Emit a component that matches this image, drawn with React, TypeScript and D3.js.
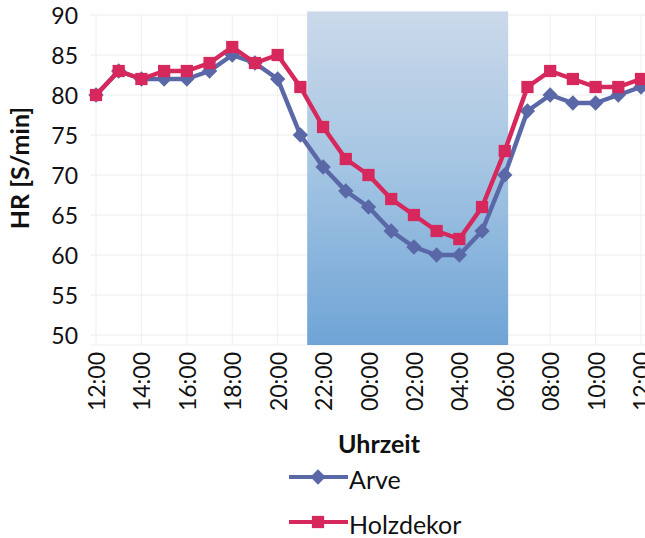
import React, { useEffect, useRef } from 'react';
import * as d3 from 'd3';

const W = 645;
const H = 538;

// hourly categories, 12:00 through 12:00 next day
const hours = [
  '12:00', '13:00', '14:00', '15:00', '16:00', '17:00', '18:00', '19:00', '20:00',
  '21:00', '22:00', '23:00', '00:00', '01:00', '02:00', '03:00', '04:00', '05:00',
  '06:00', '07:00', '08:00', '09:00', '10:00', '11:00', '12:00',
];
const tickLabels = ['12:00', '14:00', '16:00', '18:00', '20:00', '22:00', '00:00', '02:00', '04:00', '06:00', '08:00', '10:00', '12:00'];

const arve = [80, 83, 82, 82, 82, 83, 85, 84, 82, 75, 71, 68, 66, 63, 61, 60, 60, 63, 70, 78, 80, 79, 79, 80, 81];
const holzdekor = [80, 83, 82, 83, 83, 84, 86, 84, 85, 81, 76, 72, 70, 67, 65, 63, 62, 66, 73, 81, 83, 82, 81, 81, 82];

const yTicks = [50, 55, 60, 65, 70, 75, 80, 85, 90];

// night period (shaded), in hour-index units
const nightStart = 9.3;
const nightEnd = 18.15;

const FONT = 'Lato, "Noto Sans", sans-serif';
const ARVE_COLOR = '#5a68a8';
const HOLZ_COLOR = '#d6285c';

export default function App() {
  const svgRef = useRef<SVGSVGElement>(null);

  useEffect(() => {
    document.body.style.margin = '0';
    const svg = d3.select(svgRef.current);
    svg.selectAll('*').remove();

    const x = d3.scaleLinear().domain([0, hours.length - 1]).range([96, 641]);
    const y = d3.scaleLinear().domain([50, 90]).range([335, 15]);
    const yFloor = 48.75;

    const defs = svg.append('defs');
    const grad = defs.append('linearGradient')
      .attr('id', 'night').attr('x1', 0).attr('y1', 0).attr('x2', 0).attr('y2', 1);
    grad.append('stop').attr('offset', '0%').attr('stop-color', '#cbd9ea');
    grad.append('stop').attr('offset', '45%').attr('stop-color', '#a6c6e3');
    grad.append('stop').attr('offset', '100%').attr('stop-color', '#6fa4d6');

    svg.append('rect').attr('width', W).attr('height', H).attr('fill', '#fff');

    // grid
    svg.append('g').selectAll('line')
      .data(yTicks)
      .join('line')
      .attr('x1', x(-0.25)).attr('x2', W)
      .attr('y1', d => y(d)).attr('y2', d => y(d))
      .attr('stroke', '#ececec').attr('stroke-width', 1);

    svg.append('g').selectAll('line')
      .data(d3.range(0, hours.length, 2))
      .join('line')
      .attr('x1', d => x(d)).attr('x2', d => x(d))
      .attr('y1', y(90)).attr('y2', y(yFloor))
      .attr('stroke', '#f0f0f0').attr('stroke-width', 1);

    svg.append('line')
      .attr('x1', x(-0.25)).attr('x2', W)
      .attr('y1', y(yFloor)).attr('y2', y(yFloor))
      .attr('stroke', '#eeeeee');

    // night shading
    svg.append('rect')
      .attr('x', x(nightStart)).attr('y', y(90.45))
      .attr('width', x(nightEnd) - x(nightStart))
      .attr('height', y(yFloor) - y(90.45))
      .attr('fill', 'url(#night)');

    // y ticks
    svg.append('g').selectAll('text')
      .data(yTicks)
      .join('text')
      .attr('x', 78).attr('y', d => y(d))
      .attr('text-anchor', 'end').attr('dominant-baseline', 'central')
      .attr('font-family', FONT).attr('font-size', 23).attr('fill', '#111')
      .text(d => d);

    // x ticks, rotated
    svg.append('g').selectAll('text')
      .data(tickLabels)
      .join('text')
      .attr('transform', (_, i) => `translate(${x(i * 2)},352) rotate(-90)`)
      .attr('text-anchor', 'end').attr('dominant-baseline', 'central')
      .attr('font-family', FONT).attr('font-size', 23).attr('fill', '#111')
      .text(d => d);

    // axis titles
    svg.append('text')
      .attr('transform', `translate(19,168) rotate(-90)`)
      .attr('text-anchor', 'middle').attr('dominant-baseline', 'central')
      .attr('font-family', FONT).attr('font-size', 25).attr('font-weight', 700).attr('fill', '#111')
      .text('HR [S/min]');

    svg.append('text')
      .attr('x', 379).attr('y', 443)
      .attr('text-anchor', 'middle').attr('dominant-baseline', 'central')
      .attr('font-family', FONT).attr('font-size', 25).attr('font-weight', 700).attr('fill', '#111')
      .text('Uhrzeit');

    const line = d3.line<number>().x((_, i) => x(i)).y(d => y(d));
    const diamond = d3.symbol().type(d3.symbolDiamond2).size(150);
    const square = d3.symbol().type(d3.symbolSquare).size(150);

    const series = [
      { name: 'Arve', values: arve, color: ARVE_COLOR, sym: diamond },
      { name: 'Holzdekor', values: holzdekor, color: HOLZ_COLOR, sym: square },
    ];

    series.forEach((s) => {
      const g = svg.append('g');
      g.append('path')
        .datum(s.values)
        .attr('d', line)
        .attr('fill', 'none')
        .attr('stroke', s.color).attr('stroke-width', 4.5).attr('stroke-linejoin', 'round');
      g.selectAll('path.m')
        .data(s.values)
        .join('path')
        .attr('class', 'm')
        .attr('transform', (d, i) => `translate(${x(i)},${y(d)})`)
        .attr('d', s.sym())
        .attr('fill', s.color);
    });

    // legend
    const legendY = [477, 522];
    series.forEach((s, i) => {
      const g = svg.append('g').attr('transform', `translate(0,${legendY[i]})`);
      g.append('line')
        .attr('x1', 289).attr('x2', 348)
        .attr('stroke', s.color).attr('stroke-width', 4);
      g.append('path')
        .attr('transform', 'translate(318,0)')
        .attr('d', s.sym())
        .attr('fill', s.color);
      g.append('text')
        .attr('x', 349).attr('y', 2)
        .attr('dominant-baseline', 'central')
        .attr('font-family', FONT).attr('font-size', 25).attr('fill', '#111')
        .text(s.name);
    });
  }, []);

  return (
    <div style={{ position: 'absolute', left: 0, top: 0 }}>
      <svg ref={svgRef} width={W} height={H} style={{ display: 'block' }} />
    </div>
  );
}
